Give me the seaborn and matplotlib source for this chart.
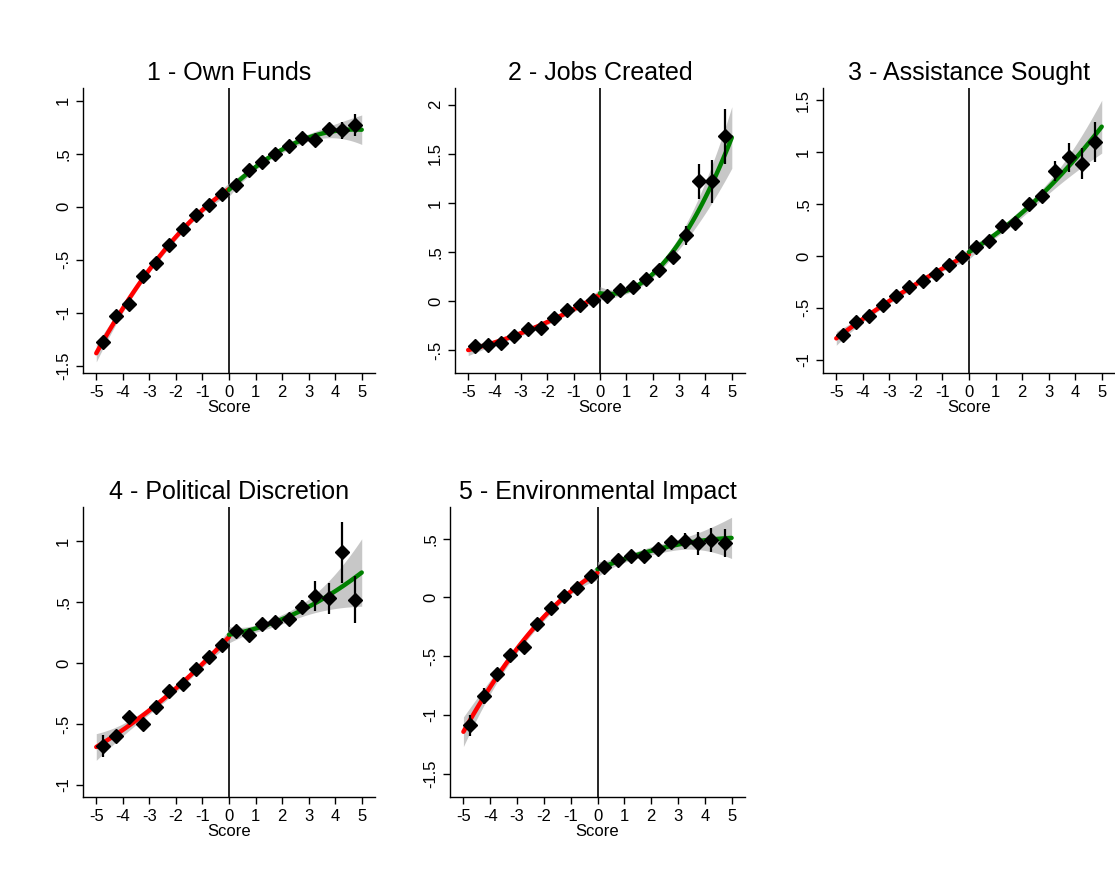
import numpy as np
import pandas as pd
import matplotlib
matplotlib.use("Agg")
import matplotlib.pyplot as plt
import seaborn as sns

sns.set_style("white")
plt.rcParams['font.family'] = ['Liberation Sans', 'DejaVu Sans']
plt.rcParams['text.color'] = 'black'
plt.rcParams['axes.labelcolor'] = 'black'
plt.rcParams['xtick.color'] = 'black'
plt.rcParams['ytick.color'] = 'black'

score = [-4.75, -4.25, -3.75, -3.25, -2.75, -2.25, -1.75, -1.25, -0.75, -0.25,
         0.25, 0.75, 1.25, 1.75, 2.25, 2.75, 3.25, 3.75, 4.25, 4.75]

titles = ["1 - Own Funds", "2 - Jobs Created", "3 - Assistance Sought",
          "4 - Political Discretion", "5 - Environmental Impact"]

own_funds = [-1.28, -1.03, -0.92, -0.65, -0.53, -0.36, -0.21, -0.08, 0.02, 0.12,
             0.20, 0.35, 0.42, 0.50, 0.57, 0.65, 0.63, 0.73, 0.72, 0.77]
own_funds_err = [0.05, 0.04, 0.04, 0.03, 0.03, 0.03, 0.03, 0.03, 0.03, 0.03,
                 0.03, 0.03, 0.03, 0.03, 0.03, 0.04, 0.04, 0.06, 0.08, 0.10]
jobs = [-0.46, -0.45, -0.42, -0.35, -0.28, -0.27, -0.17, -0.09, -0.04, 0.01,
        0.05, 0.11, 0.15, 0.23, 0.32, 0.45, 0.67, 1.22, 1.22, 1.68]
jobs_err = [0.03, 0.03, 0.03, 0.03, 0.03, 0.03, 0.03, 0.03, 0.03, 0.03,
            0.03, 0.03, 0.03, 0.03, 0.04, 0.05, 0.10, 0.18, 0.22, 0.28]
assist = [-0.76, -0.64, -0.58, -0.47, -0.39, -0.30, -0.24, -0.17, -0.09, -0.01,
          0.09, 0.14, 0.29, 0.32, 0.50, 0.58, 0.82, 0.95, 0.89, 1.10]
assist_err = [0.04, 0.03, 0.03, 0.03, 0.03, 0.03, 0.03, 0.03, 0.03, 0.03,
              0.03, 0.03, 0.04, 0.04, 0.04, 0.05, 0.10, 0.14, 0.15, 0.19]
political = [-0.68, -0.60, -0.44, -0.50, -0.36, -0.23, -0.17, -0.05, 0.05, 0.15,
             0.26, 0.23, 0.32, 0.34, 0.36, 0.46, 0.55, 0.53, 0.91, 0.52]
political_err = [0.09, 0.05, 0.04, 0.04, 0.03, 0.03, 0.03, 0.03, 0.03, 0.03,
                 0.03, 0.03, 0.03, 0.03, 0.04, 0.06, 0.12, 0.13, 0.25, 0.19]
environ = [-1.09, -0.84, -0.65, -0.49, -0.42, -0.23, -0.09, 0.01, 0.08, 0.18,
           0.26, 0.32, 0.35, 0.35, 0.41, 0.47, 0.48, 0.46, 0.49, 0.46]
environ_err = [0.09, 0.07, 0.05, 0.04, 0.04, 0.03, 0.03, 0.03, 0.03, 0.03,
               0.03, 0.03, 0.03, 0.03, 0.04, 0.04, 0.07, 0.10, 0.10, 0.12]

series = [own_funds, jobs, assist, political, environ]
errors = [own_funds_err, jobs_err, assist_err, political_err, environ_err]
yticks = [[-1.5, -1, -0.5, 0, 0.5, 1], [-0.5, 0, 0.5, 1, 1.5, 2],
          [-1, -0.5, 0, 0.5, 1, 1.5], [-1, -0.5, 0, 0.5, 1], [-1.5, -1, -0.5, 0, 0.5]]
ylims = [(-1.57, 1.12), (-0.73, 2.17), (-1.13, 1.62), (-1.1, 1.28), (-1.7, 0.77)]
rects = [(83, 373, 375, 88), (455, 373, 745, 88), (823, 373, 1115, 88),
         (83, 797, 375, 507), (450, 797, 745, 507)]

W, H = 1115, 882
fig = plt.figure(figsize=(W / 100, H / 100), dpi=100)

def fmt(v):
    if v == int(v):
        return str(int(v))
    return f"{v:g}".replace("0.", ".")

def quad_fit(x, y, grid, w):
    x = np.asarray(x); y = np.asarray(y); w = np.asarray(w)
    X = np.vstack([np.ones_like(x), x, x ** 2]).T
    Wt = np.diag(1 / w ** 2)
    cov = np.linalg.inv(X.T @ Wt @ X)
    beta = cov @ X.T @ Wt @ y
    G = np.vstack([np.ones_like(grid), grid, grid ** 2]).T
    yhat = G @ beta
    se = np.sqrt(np.einsum("ij,jk,ik->i", G, cov, G))
    return yhat, 1.96 * se

for i in range(5):
    l, b, r, t = rects[i]
    ax = fig.add_axes([l / W, 1 - b / H, (r - l) / W, (b - t) / H])
    df = pd.DataFrame({"score": score, "y": series[i], "err": errors[i]})
    for part, col, lo, hi in [(df[df.score < 0], "red", -5, 0),
                              (df[df.score > 0], "green", 0, 5)]:
        grid = np.linspace(lo, hi, 100)
        yhat, band = quad_fit(part.score, part.y, grid, part.err)
        ax.fill_between(grid, yhat - band, yhat + band, color="#b0b0b0",
                        alpha=0.7, lw=0, zorder=2)
        sns.lineplot(x=grid, y=yhat, color=col, lw=3.2, ax=ax, zorder=3)
    ax.axvline(0, color="black", lw=1.2, zorder=1)
    ax.errorbar(score, series[i], yerr=errors[i], fmt="D", color="black",
                ms=7, elinewidth=1.6, capsize=0, zorder=5)
    ax.set_xlim(-5.5, 5.5)
    ax.set_ylim(*ylims[i])
    ax.set_xticks(range(-5, 6))
    ax.set_xticklabels([str(k) for k in range(-5, 6)])
    ax.set_yticks(yticks[i])
    ax.set_yticklabels([fmt(v) for v in yticks[i]], rotation=90, va="center")
    ax.tick_params(axis="both", labelsize=12, length=5, width=1,
                   direction="out", left=True, bottom=True, color="black",
                   labelcolor="black")
    ax.set_xlabel("Score", fontsize=12, labelpad=0, color="black")
    ax.set_ylabel("")
    ax.set_title(titles[i], fontsize=18, pad=6, color="black")
    for s in ["top", "right"]:
        ax.spines[s].set_visible(False)
    for s in ["left", "bottom"]:
        ax.spines[s].set_color("black")
        ax.spines[s].set_linewidth(1)

fig.savefig("out.png", dpi=100)
